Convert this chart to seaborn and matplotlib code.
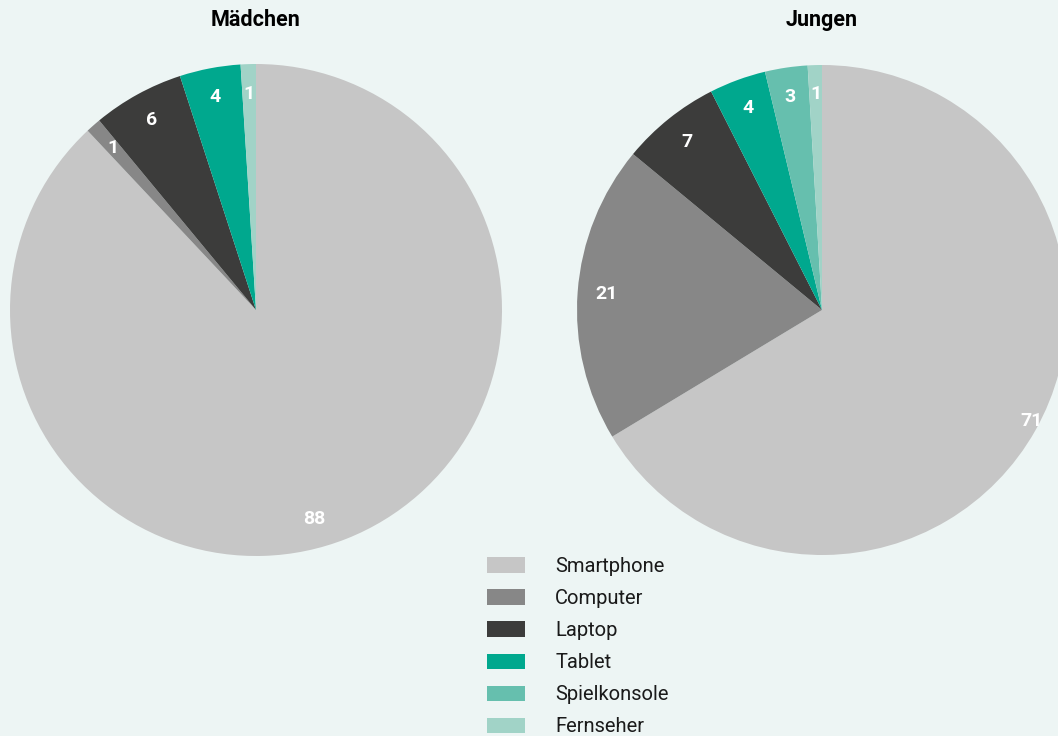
import matplotlib
matplotlib.use("Agg")
import numpy as np
import matplotlib.pyplot as plt
import matplotlib.patches as mpatches
import seaborn as sns

categories = ["Smartphone", "Computer", "Laptop", "Tablet", "Spielkonsole", "Fernseher"]
maedchen = [88, 1, 6, 4, 0, 1]
jungen = [71, 21, 7, 4, 3, 1]
titles = ["Mädchen", "Jungen"]

colors = sns.color_palette(["#C6C6C6", "#878787", "#3C3C3B", "#00A88E", "#66BFAE", "#A1D3C7"])
bg = "#EDF5F4"

sns.set_theme(style="white")
plt.rcParams["font.family"] = ["Roboto", "DejaVu Sans"]

W, H = 1058, 736
fig = plt.figure(figsize=(W / 100, H / 100), dpi=100, facecolor=bg)

def add_pie(values, title, cx, cy, r, big_scale=1.0, big_rot=0.0):
    ax = fig.add_axes([(cx - r) / W, (H - cy - r) / H, 2 * r / W, 2 * r / H])
    ax.set_facecolor(bg)
    labels = [str(v) if v > 0 else "" for v in values]
    wedges, texts = ax.pie(values, labels=labels, colors=colors, startangle=90, counterclock=False,
                           labeldistance=0.88, wedgeprops=dict(linewidth=0),
                           textprops=dict(color="white", fontweight="bold", fontsize=14,
                                          ha="center", va="center"))
    # fine-tune the label of the largest wedge
    t = texts[int(np.argmax(values))]
    x, y = t.get_position()
    a = np.deg2rad(big_rot)
    x, y = x * np.cos(a) - y * np.sin(a), x * np.sin(a) + y * np.cos(a)
    t.set_position((x * big_scale, y * big_scale))
    ax.set_xlim(-1, 1)
    ax.set_ylim(-1, 1)
    ax.set_aspect("equal")
    ax.axis("off")
    fig.text(cx / W, 1 - 20 / H, title, ha="center", va="center", fontsize=15.5,
             fontweight="bold", color="black")
    return ax

add_pie(maedchen, titles[0], 256, 310, 246, big_scale=1.0, big_rot=-6.0)
add_pie(jungen, titles[1], 822, 310, 245, big_scale=1.1, big_rot=1.5)

handles = [mpatches.Patch(facecolor=c, edgecolor="none", label=l) for c, l in zip(colors, categories)]
leg = fig.legend(handles=handles, loc="upper left", bbox_to_anchor=(487 / W, 1 - 557 / H),
                 frameon=False, fontsize=14.5, handlelength=1.89, handleheight=0.8,
                 handletextpad=1.49, labelspacing=0.65, borderaxespad=0, borderpad=0)
for t in leg.get_texts():
    t.set_color("#1a1a1a")

fig.savefig("out.png", dpi=100, facecolor=bg)
